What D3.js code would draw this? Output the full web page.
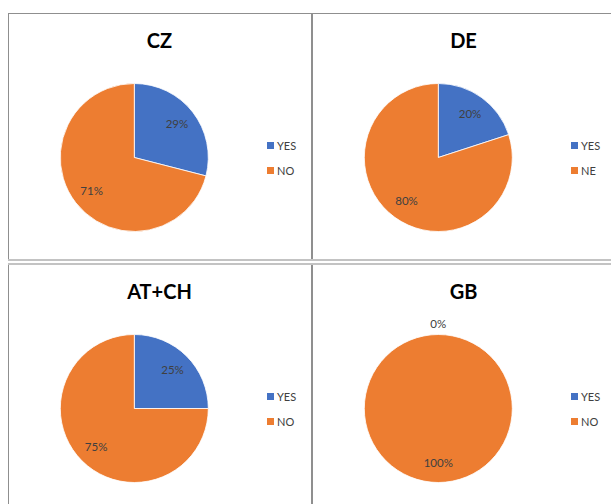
<!DOCTYPE html>
<html>
<head>
<meta charset="utf-8">
<script src="https://cdn.jsdelivr.net/npm/d3@7/dist/d3.min.js"></script>
<style>
  html, body { margin: 0; padding: 0; background: #fff; }
  svg { display: block; font-family: Lato, "Open Sans", sans-serif; }
</style>
</head>
<body>
<svg id="chart" width="611" height="504"></svg>
<script>
// Survey answers per region (percent of respondents)
const regions = ["CZ", "DE", "AT+CH", "GB"];
const yesValues = [29, 20, 25, 0];
const noValues = [71, 80, 75, 100];
const yesLabels = ["YES", "YES", "YES", "YES"];
const noLabels = ["NO", "NE", "NO", "NO"];

const colors = ["#4472C4", "#ED7D31"];

// Panel grid: two columns, two rows
const panels = [
  { x: 8, y: 13 },
  { x: 312, y: 13 },
  { x: 8, y: 264 },
  { x: 312, y: 264 }
];
const radius = 74;
const pieCx = 126.3;
const pieCy = 144.5;

const svg = d3.select("#chart");

// Panel borders
const borders = svg.append("g");
const dark = "#8f8f8f", light = "#c3c3c3";
borders.append("line").attr("x1", 8).attr("x2", 611).attr("y1", 13.5).attr("y2", 13.5)
  .attr("stroke", dark).attr("stroke-width", 1);
borders.append("line").attr("x1", 8.5).attr("x2", 8.5).attr("y1", 13).attr("y2", 261)
  .attr("stroke", dark).attr("stroke-width", 1);
borders.append("line").attr("x1", 8.5).attr("x2", 8.5).attr("y1", 263).attr("y2", 504)
  .attr("stroke", dark).attr("stroke-width", 1);
borders.append("line").attr("x1", 312).attr("x2", 312).attr("y1", 13).attr("y2", 260)
  .attr("stroke", dark).attr("stroke-width", 2);
borders.append("line").attr("x1", 312).attr("x2", 312).attr("y1", 264).attr("y2", 504)
  .attr("stroke", dark).attr("stroke-width", 2);
borders.append("line").attr("x1", 8).attr("x2", 611).attr("y1", 260).attr("y2", 260)
  .attr("stroke", light).attr("stroke-width", 2);
borders.append("line").attr("x1", 8).attr("x2", 611).attr("y1", 264).attr("y2", 264)
  .attr("stroke", light).attr("stroke-width", 2);

const pie = d3.pie().sort(null).value(d => d.value);
const arc = d3.arc().innerRadius(0).outerRadius(radius);
const labelArc = d3.arc().innerRadius(radius * 0.73).outerRadius(radius * 0.73);
const outerLabelArc = d3.arc().innerRadius(radius + 11).outerRadius(radius + 11);

regions.forEach((name, i) => {
  const data = [
    { key: yesLabels[i], value: yesValues[i] },
    { key: noLabels[i], value: noValues[i] }
  ];
  const g = svg.append("g").attr("transform", `translate(${panels[i].x},${panels[i].y})`);

  g.append("text")
    .attr("x", 151.5).attr("y", 35)
    .attr("text-anchor", "middle")
    .attr("font-size", 20).attr("font-weight", "bold")
    .attr("fill", "#000")
    .text(name);

  const pg = g.append("g").attr("transform", `translate(${pieCx},${pieCy})`);
  const arcs = pie(data);

  pg.selectAll("path")
    .data(arcs)
    .join("path")
    .attr("d", arc)
    .attr("fill", (d, j) => colors[j])
    .attr("stroke", "#fff")
    .attr("stroke-width", d => d.data.value > 0 ? 0.8 : 0);

  pg.selectAll("text")
    .data(arcs)
    .join("text")
    .attr("transform", d => {
      const c = (d.data.value > 0 ? labelArc : outerLabelArc).centroid(d);
      return `translate(${c[0]},${c[1]})`;
    })
    .attr("text-anchor", "middle")
    .attr("dy", "0.35em")
    .attr("font-size", 11.5)
    .attr("fill", "#404040")
    .text(d => d.data.value + "%");

  // Legend
  const lg = g.append("g").attr("transform", "translate(259,129)");
  const items = lg.selectAll("g")
    .data(data)
    .join("g")
    .attr("transform", (d, j) => `translate(0,${j * 25})`);
  items.append("rect")
    .attr("width", 7).attr("height", 7)
    .attr("fill", (d, j) => colors[j]);
  items.append("text")
    .attr("x", 10).attr("y", 7.5)
    .attr("font-size", 11)
    .attr("fill", "#404040")
    .text(d => d.key);
});
</script>
</body>
</html>
